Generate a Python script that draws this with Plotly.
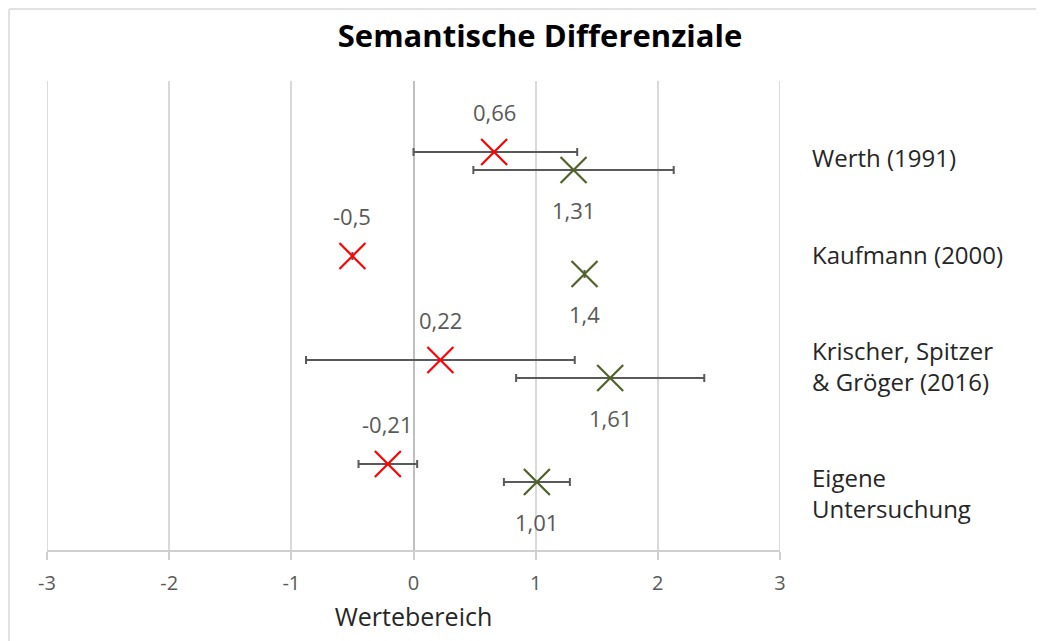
import plotly.graph_objects as go

categories = ["Werth (1991)", "Kaufmann (2000)", "Krischer, Spitzer<br>& Gröger (2016)", "Eigene<br>Untersuchung"]
row_pos = [4, 3, 2, 1]

red_vals = [0.66, -0.5, 0.22, -0.21]
red_low = [0.0, None, -0.88, -0.45]
red_high = [1.34, None, 1.32, 0.03]

green_vals = [1.31, 1.4, 1.61, 1.01]
green_low = [0.49, None, 0.84, 0.74]
green_high = [2.13, None, 2.38, 1.28]

x_ticks = [-3, -2, -1, 0, 1, 2, 3]

offset = 0.0865
FONT = "Open Sans"
GRAY = "#595959"
GRID = "#d9d9d9"

def fmt(v):
    return ("%g" % v).replace(".", ",")

def err(vals, lo, hi):
    plus = [(h - v) if h is not None else float("nan") for v, h in zip(vals, hi)]
    minus = [(v - l) if l is not None else float("nan") for v, l in zip(vals, lo)]
    return plus, minus

fig = go.Figure()

# gridlines at the range edges (plotly omits them)
for xv in (x_ticks[0], x_ticks[-1]):
    fig.add_shape(type="line", xref="x", yref="paper", x0=xv, x1=xv, y0=0, y1=1,
                  line=dict(color=GRID, width=1.8), layer="below")

for vals, lo, hi, color, sign in [
    (red_vals, red_low, red_high, "#FF0000", 1),
    (green_vals, green_low, green_high, "#4F6228", -1),
]:
    ys = [r + sign * offset for r in row_pos]
    plus, minus = err(vals, lo, hi)
    fig.add_trace(go.Scatter(
        x=vals, y=ys, mode="markers",
        marker=dict(symbol="x-thin-open", size=26, line=dict(color=color, width=2.2), color=color),
        error_x=dict(type="data", symmetric=False, array=plus, arrayminus=minus,
                     color=GRAY, thickness=2, width=4),
        showlegend=False, hoverinfo="skip",
    ))
    for v, y in zip(vals, ys):
        fig.add_annotation(x=v, y=y, text=fmt(v), showarrow=False,
                           yshift=40 * sign, font=dict(family=FONT, size=22, color=GRAY))

# category labels on the right
label_y = [0.836, 0.629, 0.392, 0.1215]
for cat, ly in zip(categories, label_y):
    fig.add_annotation(x=1.041, y=ly, xref="paper", yref="paper", text=cat,
                       showarrow=False, xanchor="left", yanchor="middle", align="left",
                       font=dict(family=FONT, size=24, color="#262626"))

# partial outer border (left and top)
fig.add_shape(type="line", xref="paper", yref="paper", x0=-0.0518, x1=-0.0518, y0=-0.3, y1=1.1535,
              line=dict(color=GRID, width=1.5))
fig.add_shape(type="line", xref="paper", yref="paper", x0=-0.0518, x1=1.5, y0=1.1535, y1=1.1535,
              line=dict(color=GRID, width=1.5))

fig.update_layout(
    width=1036, height=633,
    margin=dict(l=39, r=264, t=73, b=91),
    paper_bgcolor="white", plot_bgcolor="white",
    title=dict(text="<b>Semantische Differenziale</b>", x=532 / 1036, xanchor="center",
               y=1 - 28 / 633, yanchor="middle",
               font=dict(family=FONT, size=31, color="#000000")),
    font=dict(family=FONT),
    xaxis=dict(range=[-3, 3], tickvals=x_ticks, ticktext=[str(t) for t in x_ticks],
               showgrid=True, gridcolor=GRID, gridwidth=1.8,
               zeroline=True, zerolinecolor="#bfbfbf", zerolinewidth=2.2,
               showline=True, linecolor="#cfcfcf", linewidth=1.8,
               ticks="outside", ticklen=8, tickcolor="#cfcfcf", tickwidth=1.5,
               ticklabelstandoff=6,
               tickfont=dict(family=FONT, size=20, color=GRAY),
               title=dict(text="Wertebereich", standoff=14,
                          font=dict(family=FONT, size=25, color="#262626"))),
    yaxis=dict(range=[0.26, 4.77], showgrid=False, zeroline=False, showticklabels=False,
               showline=False, ticks=""),
)

fig.write_html("out.html")
